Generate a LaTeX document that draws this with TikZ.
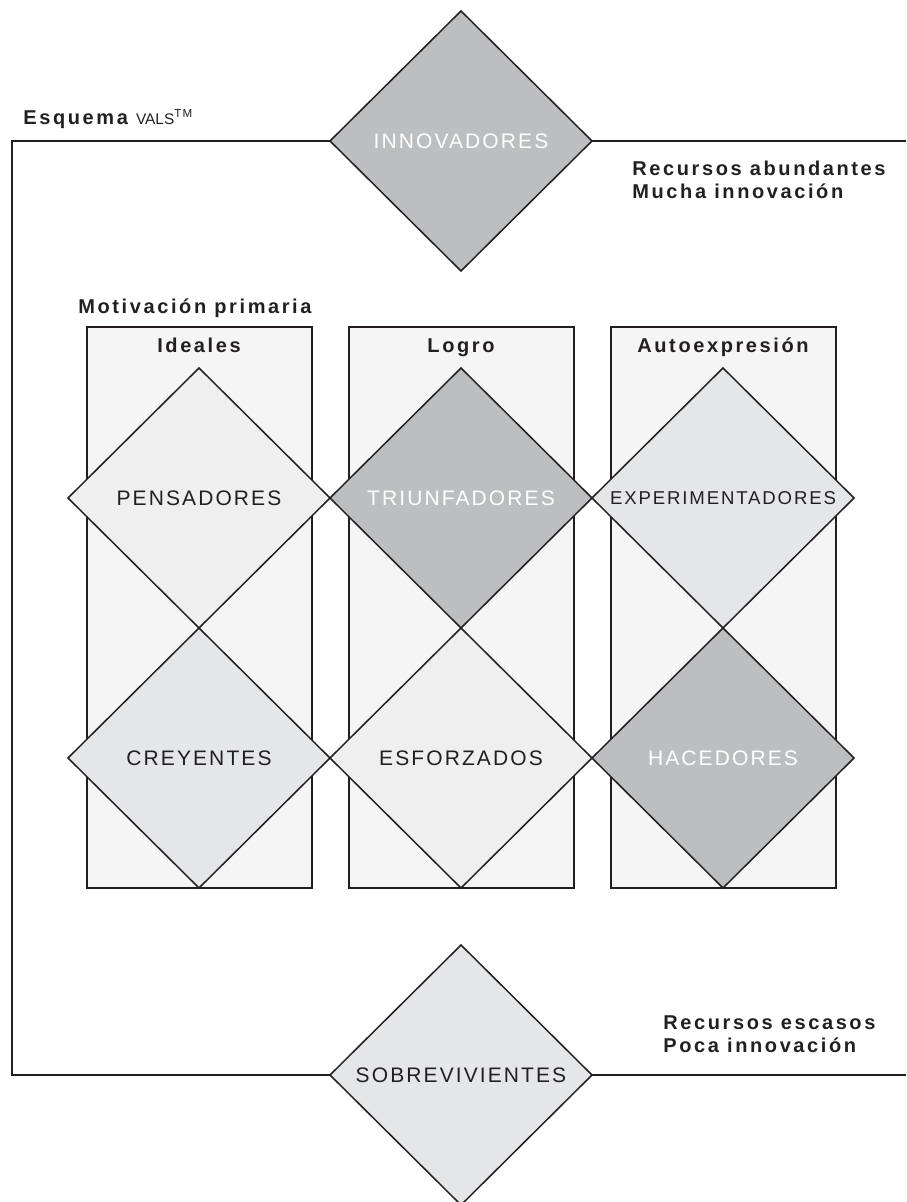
\documentclass[tikz,border=0pt]{standalone}
\usepackage{fontspec}
\setmainfont{Liberation Sans}
\newfontfamily\hdrfont[LetterSpace=13]{Liberation Sans}
\newfontfamily\segfont[LetterSpace=10]{Liberation Sans}
\usepackage{tikz}
\usetikzlibrary{positioning}
\usetikzlibrary{shapes.geometric}
\definecolor{colbg}{RGB}{245, 245, 245}
\definecolor{dlight}{RGB}{239, 239, 240}
\definecolor{dmid}{RGB}{229, 230, 232}
\definecolor{ddark}{RGB}{189, 190, 192}
\definecolor{ink}{RGB}{35, 31, 32}
\tikzset{
  seg/.style={diamond, minimum width=131pt, minimum height=130pt, inner sep=0pt, outer sep=0pt, draw=ink, line width=0.75pt, text=ink, font=\segfont\fontsize{10.5}{12}\selectfont},
  column/.style={rectangle, minimum width=112.5pt, minimum height=280.5pt, fill=colbg, draw=ink, line width=1pt},
  hdr/.style={anchor=base west, inner sep=0pt, text=ink, font=\hdrfont\bfseries\fontsize{10}{11.5}\selectfont},
  frameline/.style={line width=0.8pt, color=ink},
}

\begin{document}
\begin{tikzpicture}[scale=0.5]
\useasboundingbox (0pt, 0pt) rectangle (906pt, -1202pt);
\node (colI) [column] at (199pt, -607.5pt) {};
\node (colL) [column] at (461pt, -607.5pt) {};
\node (colA) [column] at (723pt, -607.5pt) {};
\node (inn) [seg, fill=ddark, text=white] at (461pt, -141pt) {INNOVADORES};
\node (pen) [seg, fill=dlight] at (199pt, -498pt) {PENSADORES};
\node (tri) [seg, fill=ddark, text=white, right=0pt of pen] {TRIUNFADORES};
\node (exp) [seg, fill=dmid, right=0pt of tri, font=\segfont\fontsize{9.3}{11}\selectfont] {EXPERIMENTADORES};
\node (cre) [seg, fill=dmid, below=0pt of pen] {CREYENTES};
\node (esf) [seg, fill=dlight, below=0pt of tri] {ESFORZADOS};
\node (hac) [seg, fill=ddark, text=white, below=0pt of exp] {HACEDORES};
\node (sob) [seg, fill=dmid] at (461pt, -1075pt) {SOBREVIVIENTES};
\node (hI) [hdr, anchor=base] at (199pt, -353pt) {Ideales};
\node (hL) [hdr, anchor=base] at (461pt, -353pt) {Logro};
\node (hA) [hdr, anchor=base] at (723pt, -353pt) {Autoexpresión};
\node (mot) [hdr] at (78pt, -314pt) {Motivación primaria};
\node (esq) [hdr] at (23pt, -125pt) {Esquema {\normalfont\fontsize{7.7}{9}\selectfont VALS\raisebox{3.6pt}{\fontsize{5.8}{6}\selectfont T\kern0.6pt M}}};
\node (ra1) [hdr] at (632pt, -176pt) {Recursos abundantes};
\node (ra2) [hdr] at (632pt, -199pt) {Mucha innovación};
\node (re1) [hdr] at (663pt, -1029pt) {Recursos escasos};
\node (re2) [hdr] at (663pt, -1052pt) {Poca innovación};
\coordinate (tl) at (12pt, -141pt);
\coordinate (tr) at (906pt, -141pt);
\coordinate (bl) at (12pt, -1075pt);
\coordinate (br) at (906pt, -1075pt);
\draw [frameline] (inn.west) -- (tl) -- (bl) -- (sob.west);
\draw [frameline] (inn.east) -- (tr);
\draw [frameline] (sob.east) -- (br);
\end{tikzpicture}
\end{document}
